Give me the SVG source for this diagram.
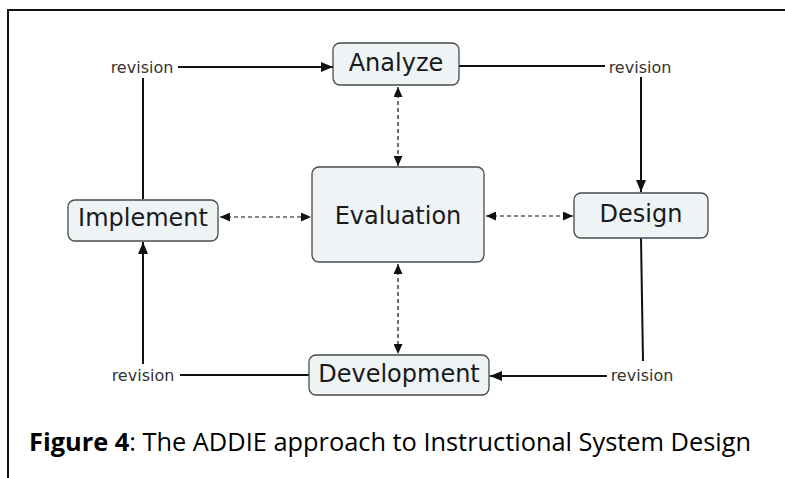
<svg xmlns="http://www.w3.org/2000/svg" width="785" height="478" viewBox="0 0 785 478">
<style>
.node rect{fill:#eef3f6;stroke:#4a4a4a;stroke-width:1.3}
.node text{font-family:"DejaVu Sans",Verdana,sans-serif;font-size:24px;fill:#1a1a1a;text-anchor:middle}
.rev{font-family:"DejaVu Sans",Verdana,sans-serif;font-size:16px;fill:#333;text-anchor:middle}
.solid{stroke:#111;stroke-width:2;fill:none}
.dash{stroke:#111;stroke-width:1.2;stroke-dasharray:4,3;fill:none}
.cap{font-family:"Open Sans","Liberation Sans",sans-serif;font-size:25px;fill:#000}
</style>
<defs>
<marker id="ah" viewBox="0 0 12 10" refX="12" refY="5" markerWidth="12" markerHeight="10" markerUnits="userSpaceOnUse" orient="auto-start-reverse">
<path d="M0,0 L12,5 L0,10 z" fill="#111"/>
</marker>
<marker id="ahs" viewBox="0 0 10 9" refX="10" refY="4.5" markerWidth="10" markerHeight="9" markerUnits="userSpaceOnUse" orient="auto-start-reverse">
<path d="M0,0 L10,4.5 L0,9 z" fill="#111"/>
</marker>
</defs>
<rect width="785" height="478" fill="#fff"/>
<path d="M8,478 V10 H785" stroke="#111" stroke-width="2" fill="none"/>
<g id="connectors">
<path class="solid" d="M143,199 V78"/>
<path class="solid" d="M178,67 H333" marker-end="url(#ah)"/>
<path class="solid" d="M459,66 H605"/>
<path class="solid" d="M641,77 V192" marker-end="url(#ah)"/>
<path class="solid" d="M641,238 L643,361"/>
<path class="solid" d="M607,376 H490" marker-end="url(#ah)"/>
<path class="solid" d="M309,375 H180"/>
<path class="solid" d="M143,364 V242" marker-end="url(#ah)"/>
<path class="dash" d="M398,87 V166" marker-start="url(#ahs)" marker-end="url(#ahs)"/>
<path class="dash" d="M220,217 H311" marker-start="url(#ahs)" marker-end="url(#ahs)"/>
<path class="dash" d="M486,216 H573" marker-start="url(#ahs)" marker-end="url(#ahs)"/>
<path class="dash" d="M398,264 V354" marker-start="url(#ahs)" marker-end="url(#ahs)"/>
<text class="rev" x="142" y="73">revision</text>
<text class="rev" x="640" y="73">revision</text>
<text class="rev" x="143" y="381">revision</text>
<text class="rev" x="642" y="381">revision</text>
</g>
<g id="analyze" class="node"><rect x="333" y="43" width="126" height="42" rx="7"/><text x="396" y="71">Analyze</text></g>
<g id="implement" class="node"><rect x="68" y="200" width="150" height="41" rx="7"/><text x="143" y="226">Implement</text></g>
<g id="evaluation" class="node"><rect x="312" y="167" width="172" height="95" rx="7"/><text x="398" y="224">Evaluation</text></g>
<g id="design" class="node"><rect x="574" y="193" width="134" height="45" rx="7"/><text x="641" y="222">Design</text></g>
<g id="development" class="node"><rect x="309" y="355" width="180" height="40" rx="7"/><text x="399" y="382">Development</text></g>
<text class="cap" x="29" y="451" textLength="722" lengthAdjust="spacingAndGlyphs"><tspan font-weight="bold">Figure 4</tspan>: The ADDIE approach to Instructional System Design</text>
</svg>
